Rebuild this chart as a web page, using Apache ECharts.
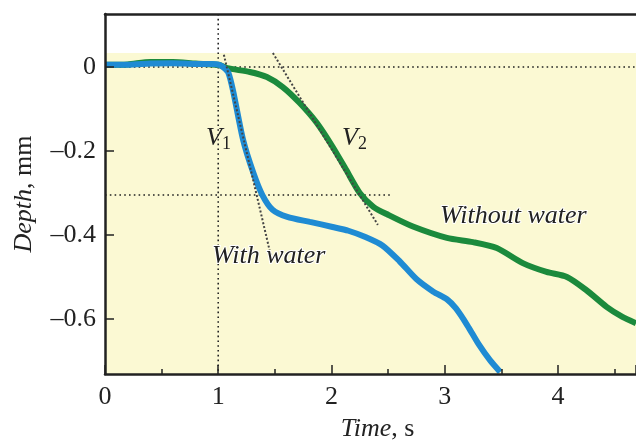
<!DOCTYPE html>
<html><head><meta charset="utf-8">
<script src="https://cdn.jsdelivr.net/npm/echarts@6/dist/echarts.min.js"></script>
<style>html,body{margin:0;padding:0;background:#fff}#c{width:636px;height:441px}</style>
</head><body><div id="c"></div>
<script>
const xTicks = [0, 1, 2, 3, 4];
const yTicks = [0, -0.2, -0.4, -0.6];
const blueT = [0, 0.2, 0.4, 0.6, 0.8, 0.95, 1.01, 1.05, 1.09, 1.13, 1.22, 1.31, 1.39, 1.48, 1.61, 1.81, 2.01, 2.15, 2.3, 2.45, 2.6, 2.75, 2.9, 3.02, 3.1, 3.2, 3.3, 3.4, 3.49];
const blueD = [0.005, 0.005, 0.008, 0.009, 0.007, 0.007, 0.005, -0.002, -0.014, -0.055, -0.174, -0.252, -0.305, -0.34, -0.357, -0.369, -0.381, -0.39, -0.405, -0.425, -0.462, -0.505, -0.535, -0.553, -0.575, -0.615, -0.66, -0.698, -0.726];
const greenT = [0, 0.2, 0.4, 0.6, 0.8, 1.0, 1.08, 1.28, 1.43, 1.57, 1.72, 1.87, 2.01, 2.13, 2.25, 2.37, 2.5, 2.72, 3.02, 3.25, 3.46, 3.69, 3.9, 4.08, 4.25, 4.43, 4.57, 4.69];
const greenD = [0.005, 0.006, 0.012, 0.012, 0.008, 0.005, -0.003, -0.012, -0.024, -0.048, -0.086, -0.133, -0.19, -0.245, -0.3, -0.333, -0.352, -0.38, -0.407, -0.417, -0.431, -0.467, -0.488, -0.5, -0.531, -0.571, -0.595, -0.61];
const tangent1T = [1.05, 1.474];
const tangent1D = [0.029, -0.46];
const tangent2T = [1.483, 2.41];
const tangent2D = [0.033, -0.376];
const xMin = 0, xMax = 4.69, yMin = -0.731, yMax = 0.126, bgTop = 0.033;
const refV = 1, refH0 = 0, refH1 = -0.305, refH1End = 2.54;

const zip = (a, b) => a.map((v, i) => [v, b[i]]);
const serif = 'Liberation Serif';
const dotStyle = {color: '#222', width: 1.6, type: [1.6, 3.2]};
const tanStyle = {color: '#444', width: 2, type: [2, 2]};
const axisLineStyle = {color: '#222', width: 2.5};

const chart = echarts.init(document.getElementById('c'));
chart.setOption({
  animation: false,
  backgroundColor: '#fff',
  grid: {left: 105, right: 0, top: 14, bottom: 67, containLabel: false, outerBoundsMode: 'none'},
  xAxis: [{
    type: 'value', min: xMin, max: xMax, interval: 1, z: 10,
    axisLine: {show: true, onZero: false, lineStyle: axisLineStyle},
    axisTick: {show: true, inside: true, length: 9, lineStyle: {color: '#222', width: 1.5}},
    minorTick: {show: true, splitNumber: 2, length: 5, lineStyle: {color: '#222', width: 1.5}},
    splitLine: {show: false},
    axisLabel: {color: '#222', fontFamily: serif, fontSize: 26, margin: 10, showMaxLabel: false,
      formatter: v => xTicks.includes(v) ? String(v) : ''},
    name: '{i|Time}{n|, s}', nameLocation: 'middle', nameGap: 42,
    nameTextStyle: {padding: [0, 0, 0, 14],
      rich: {i: {fontFamily: serif, fontStyle: 'italic', fontSize: 26, color: '#222'},
             n: {fontFamily: serif, fontSize: 26, color: '#222'}}}
  }, {
    type: 'value', position: 'top', min: xMin, max: xMax, z: 10,
    axisLine: {show: true, onZero: false, lineStyle: axisLineStyle},
    axisTick: {show: false}, axisLabel: {show: false}, splitLine: {show: false}
  }],
  yAxis: {
    type: 'value', min: yMin, max: yMax, z: 10,
    axisLine: {show: true, onZero: false, lineStyle: axisLineStyle},
    axisTick: {show: true, inside: true, length: 9, customValues: yTicks, lineStyle: {color: '#222', width: 1.5}},
    splitLine: {show: false},
    axisLabel: {color: '#222', fontFamily: serif, fontSize: 26, margin: 9, customValues: yTicks,
      formatter: v => v === 0 ? '0' : '\u2013' + Math.abs(v).toFixed(1)},
    name: '{i|Depth}{n|, mm}', nameLocation: 'middle', nameGap: 68,
    nameTextStyle: {rich: {i: {fontFamily: serif, fontStyle: 'italic', fontSize: 26, color: '#222'},
                           n: {fontFamily: serif, fontSize: 26, color: '#222'}}}
  },
  series: [
    {type: 'line', data: [], silent: true, z: 1,
      markArea: {silent: true, itemStyle: {color: '#fbf9d3'},
        data: [[{coord: [xMin, bgTop]}, {coord: [xMax, yMin]}]]}},
    {type: 'line', data: [[refV, yMax], [refV, yMin]], symbol: 'none', lineStyle: dotStyle, z: 3},
    {type: 'line', data: [[xMin, refH0], [xMax, refH0]], symbol: 'none', lineStyle: dotStyle, z: 3},
    {type: 'line', data: [[xMin, refH1], [refH1End, refH1]], symbol: 'none', lineStyle: dotStyle, z: 3},
    {type: 'line', data: zip(greenT, greenD), symbol: 'none', smooth: 0.25,
      lineStyle: {color: '#1b8a3c', width: 6}, z: 4},
    {type: 'line', data: zip(blueT, blueD), symbol: 'none', smooth: 0.25,
      lineStyle: {color: '#1f8bd3', width: 6}, z: 5},
    {type: 'line', data: zip(tangent1T, tangent1D), symbol: 'none', lineStyle: tanStyle, z: 6},
    {type: 'line', data: zip(tangent2T, tangent2D), symbol: 'none', lineStyle: tanStyle, z: 6}
  ],
  graphic: [
    {type: 'text', left: 206, top: 125, z: 10, style: {
      text: '{v|V}{s|1}', rich: {v: {fontFamily: serif, fontStyle: 'italic', fontSize: 26, fill: '#222'},
        s: {fontFamily: serif, fontSize: 18, fill: '#222', verticalAlign: 'bottom', padding: [12, 0, 0, 0]}}}},
    {type: 'text', left: 342, top: 125, z: 10, style: {
      text: '{v|V}{s|2}', rich: {v: {fontFamily: serif, fontStyle: 'italic', fontSize: 26, fill: '#222'},
        s: {fontFamily: serif, fontSize: 18, fill: '#222', verticalAlign: 'bottom', padding: [12, 0, 0, 0]}}}},
    {type: 'text', left: 211, top: 242, z: 10, style: {
      text: 'With water', font: 'italic 26px "Liberation Serif"', fill: '#222', stroke: '#fff', lineWidth: 2}},
    {type: 'text', left: 439, top: 202, z: 10, style: {
      text: 'Without water', font: 'italic 26px "Liberation Serif"', fill: '#222', stroke: '#fff', lineWidth: 2}}
  ]
});
</script></body></html>
